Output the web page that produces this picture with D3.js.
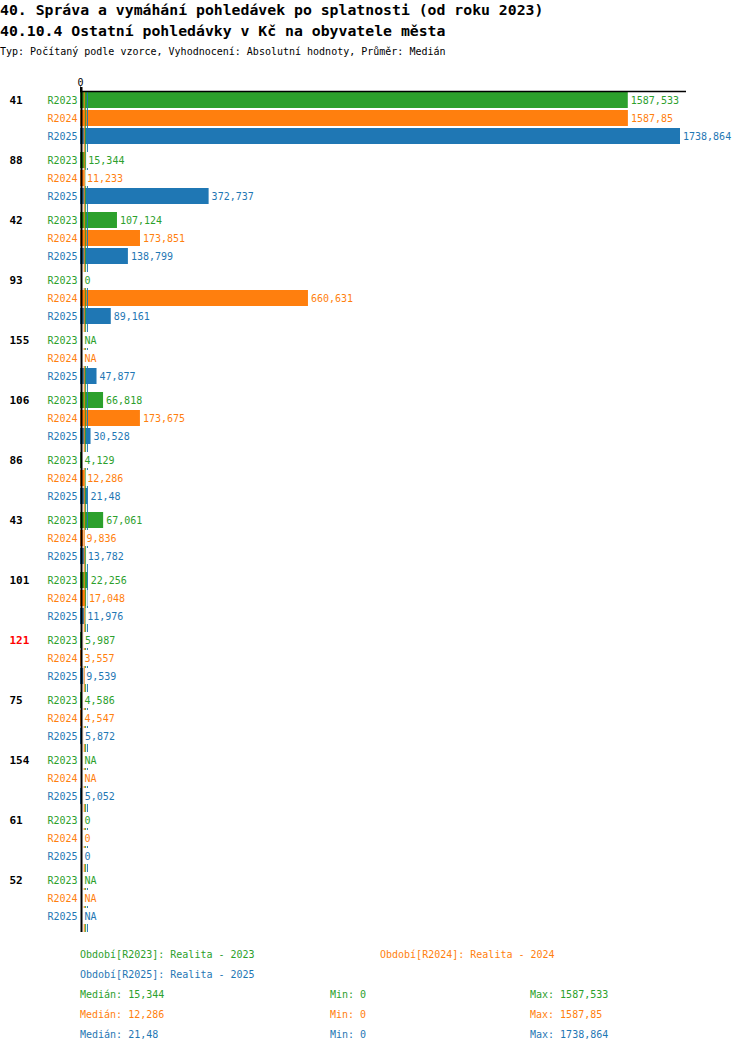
<!DOCTYPE html>
<html>
<head>
<meta charset="utf-8">
<script src="https://cdn.jsdelivr.net/npm/d3@7"></script>
<style>
  body { margin: 0; background: #fff; }
  text { font-family: "DejaVu Sans Mono", monospace; }
</style>
</head>
<body>
<svg id="chart" width="750" height="1052"></svg>
<script>
// data (null = NA)
const categories = ["41", "88", "42", "93", "155", "106", "86", "43", "101", "121", "75", "154", "61", "52"];
const highlighted = ["121"];
const series = ["R2023", "R2024", "R2025"];
const seriesNames = ["Realita - 2023", "Realita - 2024", "Realita - 2025"];
const r2023 = [1587.533, 15.344, 107.124, 0, null, 66.818, 4.129, 67.061, 22.256, 5.987, 4.586, null, 0, null];
const r2024 = [1587.85, 11.233, 173.851, 660.631, null, 173.675, 12.286, 9.836, 17.048, 3.557, 4.547, null, 0, null];
const r2025 = [1738.864, 372.737, 138.799, 89.161, 47.877, 30.528, 21.48, 13.782, 11.976, 9.539, 5.872, 5.052, 0, null];
const colors = ["#2ca02c", "#ff7f0e", "#1f77b4"];

const values = [r2023, r2024, r2025];
const fmt = v => v == null ? "NA" : String(v).replace(".", ",");

const svg = d3.select("#chart");

// titles
svg.append("text").attr("x", 0).attr("y", 14.5)
    .style("font-size", "14.8px").style("font-weight", "bold")
    .text("40. Správa a vymáhání pohledávek po splatnosti (od roku 2023)");
svg.append("text").attr("x", 0).attr("y", 36)
    .style("font-size", "14.8px").style("font-weight", "bold")
    .text("40.10.4 Ostatní pohledávky v Kč na obyvatele města");
svg.append("text").attr("x", 0).attr("y", 54.5)
    .style("font-size", "10px")
    .text("Typ: Počítaný podle vzorce, Vyhodnocení: Absolutní hodnoty, Průměr: Medián");

const maxAll = d3.max(values.flat());
const x = d3.scaleLinear().domain([0, maxAll]).range([80, 680]);
const y = d3.scaleBand().domain(categories).range([92, 932]);
const yIn = d3.scaleBand().domain(series).range([0, 52]).paddingInner(1 / 9);
const mid = yIn.bandwidth() / 2 + 0.8;

const rows = [];
categories.forEach((c, i) => {
    series.forEach((s, j) => {
        rows.push({ cat: c, s: s, j: j, v: values[j][i] });
    });
});

// bars
svg.append("g").selectAll("rect")
    .data(rows.filter(d => d.v != null))
    .enter()
    .append("rect")
    .attr("x", x(0))
    .attr("y", d => y(d.cat) + yIn(d.s))
    .attr("width", d => x(d.v) - x(0))
    .attr("height", yIn.bandwidth())
    .attr("fill", d => colors[d.j]);

// median lines
const stats = values.map(arr => {
    const vals = arr.filter(v => v != null);
    return { median: d3.median(vals), min: d3.min(vals), max: d3.max(vals) };
});
svg.append("g").selectAll("line")
    .data(stats)
    .enter()
    .append("line")
    .attr("x1", d => x(d.median)).attr("x2", d => x(d.median))
    .attr("y1", 91).attr("y2", 932)
    .attr("stroke", (d, i) => colors[i])
    .attr("stroke-width", 1);

// value labels with white boxes
const lab = svg.append("g").selectAll("g")
    .data(rows)
    .enter()
    .append("g")
    .attr("transform", d => {
        const lx = Math.max(x(d.v || 0) + 3, 84.5);
        return "translate(" + lx + "," + (y(d.cat) + yIn(d.s)) + ")";
    });
lab.append("rect")
    .attr("x", -1.5)
    .attr("y", 0)
    .attr("width", d => fmt(d.v).length * 6.02 + 3)
    .attr("height", yIn.bandwidth())
    .attr("fill", "#fff");
lab.append("text")
    .attr("x", 0)
    .attr("y", mid)
    .attr("dominant-baseline", "central")
    .style("font-size", "10px")
    .attr("fill", d => colors[d.j])
    .text(d => fmt(d.v));

// series labels
svg.append("g").selectAll("text")
    .data(rows)
    .enter()
    .append("text")
    .attr("x", 77.5)
    .attr("y", d => y(d.cat) + yIn(d.s) + mid)
    .attr("dominant-baseline", "central")
    .attr("text-anchor", "end")
    .style("font-size", "10px")
    .attr("fill", d => colors[d.j])
    .text(d => d.s);

// category labels
svg.append("g").selectAll("text")
    .data(categories)
    .enter()
    .append("text")
    .attr("x", 9.5)
    .attr("y", d => y(d) + mid)
    .attr("dominant-baseline", "central")
    .style("font-size", "11px")
    .style("font-weight", "bold")
    .attr("fill", d => highlighted.includes(d) ? "#ff0000" : "#000")
    .text(d => d);

// axes
const xAxis = svg.append("g")
    .attr("transform", "translate(0,91.5)")
    .call(d3.axisTop(x).tickValues([0]).tickSize(5).tickPadding(1));
xAxis.select(".domain").remove();
xAxis.selectAll("text").style("font-size", "10px").attr("font-family", null);
svg.append("line")
    .attr("x1", 80).attr("x2", 686).attr("y1", 91.5).attr("y2", 91.5)
    .attr("stroke", "#000").attr("stroke-width", 1.5);
svg.append("line")
    .attr("x1", 81.5).attr("x2", 81.5).attr("y1", 87).attr("y2", 932)
    .attr("stroke", "#000").attr("stroke-width", 2);

// footer legend
const legendPos = [[80, 954], [380, 954], [80, 974]];
series.forEach((s, i) => {
    svg.append("text")
        .attr("x", legendPos[i][0]).attr("y", legendPos[i][1])
        .attr("dominant-baseline", "central")
        .style("font-size", "10px")
        .attr("fill", colors[i])
        .text("Období[" + s + "]: " + seriesNames[i]);
});
stats.forEach((st, i) => {
    const yy = 994 + i * 20;
    const g = svg.append("g").attr("fill", colors[i]).style("font-size", "10px");
    g.append("text").attr("x", 80).attr("y", yy).attr("dominant-baseline", "central")
        .text("Medián: " + fmt(st.median));
    g.append("text").attr("x", 330).attr("y", yy).attr("dominant-baseline", "central")
        .text("Min: " + fmt(st.min));
    g.append("text").attr("x", 530).attr("y", yy).attr("dominant-baseline", "central")
        .text("Max: " + fmt(st.max));
});
</script>
</body>
</html>
